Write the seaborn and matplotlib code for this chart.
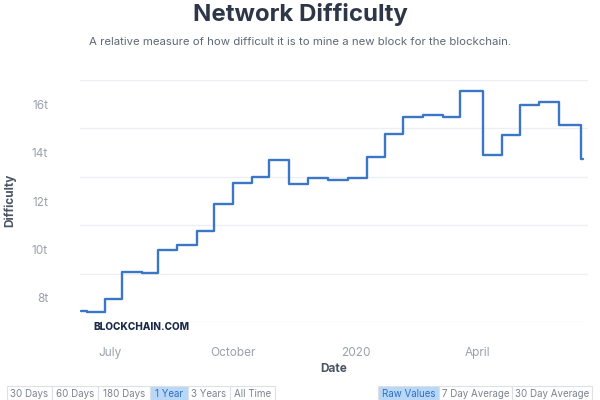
import matplotlib
matplotlib.use("Agg")
import matplotlib.pyplot as plt
from matplotlib.patches import Rectangle
import pandas as pd
import seaborn as sns

# ---- data ----
change_dates = [
    "2019-06-09", "2019-06-14", "2019-06-27", "2019-07-10", "2019-07-25",
    "2019-08-06", "2019-08-20", "2019-09-04", "2019-09-17", "2019-10-01",
    "2019-10-15", "2019-10-28", "2019-11-12", "2019-11-26", "2019-12-11",
    "2019-12-26", "2020-01-09", "2020-01-23", "2020-02-05", "2020-02-20",
    "2020-03-06", "2020-03-19", "2020-04-05", "2020-04-19", "2020-05-03",
    "2020-05-17", "2020-06-01", "2020-06-17", "2020-06-19",
]
difficulty_t = [
    7.46, 7.41, 7.93, 9.06, 9.01,
    9.99, 10.18, 10.77, 11.89, 12.76,
    13.01, 13.69, 12.72, 12.97, 12.88,
    12.94, 13.80, 14.78, 15.47, 15.55,
    15.47, 16.55, 13.91, 14.72, 15.96,
    16.10, 15.14, 13.73, 13.73,
]
x_tick_dates = ["2019-07-01", "2019-10-01", "2020-01-01", "2020-04-01"]
x_tick_labels = ["July", "October", "2020", "April"]
y_ticks = [8, 10, 12, 14, 16]
y_tick_labels = ["8t", "10t", "12t", "14t", "16t"]
left_buttons = ["30 Days", "60 Days", "180 Days", "1 Year", "3 Years", "All Time"]
right_buttons = ["Raw Values", "7 Day Average", "30 Day Average"]

df = pd.DataFrame({"Date": pd.to_datetime(change_dates), "Difficulty": difficulty_t})

sns.set_style("white")
plt.rcParams["font.family"] = ["Inter", "DejaVu Sans"]

fig = plt.figure(figsize=(6, 4), dpi=100)
ax = fig.add_axes([80 / 600, 1 - 322 / 400, 508 / 600, 242 / 400])

sns.lineplot(data=df, x="Date", y="Difficulty", ax=ax, color="#3a77c6",
             linewidth=1.7, drawstyle="steps-post")

ax.set_xlim(pd.Timestamp("2019-06-08 12:00"), pd.Timestamp("2020-06-22 12:00"))
ax.set_ylim(7, 17)

# grid
ax.set_yticks(range(7, 18), minor=True)
ax.grid(axis="y", which="minor", color="#eceff3", linewidth=0.9)
ax.set_yticks(y_ticks)
ax.set_yticklabels(y_tick_labels)
ax.tick_params(axis="y", which="both", length=0, pad=23, labelsize=8.5, labelcolor="#9aa1ab")
ax.set_axisbelow(True)

ax.set_xticks(pd.to_datetime(x_tick_dates))
ax.set_xticklabels(x_tick_labels)
ax.tick_params(axis="x", length=4, width=0.8, color="#c8cdd3", pad=5,
               labelsize=8.5, labelcolor="#9aa1ab")
ax.spines["bottom"].set_position(("outward", 9))
for s in ["top", "right", "left", "bottom"]:
    ax.spines[s].set_visible(False)

ax.set_xlabel("Date", fontsize=8.5, color="#4a5563", fontweight="bold", labelpad=3)
ax.set_ylabel("")
fig.text(10 / 600, 1 - 200 / 400, "Difficulty", rotation=90, ha="center", va="center",
         fontsize=8.5, color="#4a5563", fontweight="bold")

# titles
fig.text(0.5, 1 - 14 / 400, "Network Difficulty", ha="center", va="center",
         fontsize=17.3, fontweight="bold", color="#2d3748")
fig.text(0.5, 1 - 42 / 400,
         "A relative measure of how difficult it is to mine a new block for the blockchain.",
         ha="center", va="center", fontsize=8.2, color="#5f6875")

# watermark
fig.text(93 / 600, 1 - 327 / 400, "BLOCKCHAIN.COM", ha="left", va="center",
         fontsize=7.2, fontweight="heavy", color="#1c2b4b")

# buttons
def draw_buttons(edges, labels, active):
    for i, lab in enumerate(labels):
        x0, x1 = edges[i], edges[i + 1]
        fc = "#b9d7f7" if i == active else "white"
        tc = "#2f6fc0" if i == active else "#7b838e"
        fig.patches.append(Rectangle((x0 / 600, 0), (x1 - x0) / 600, (400 - 386) / 400,
                                     transform=fig.transFigure, facecolor=fc,
                                     edgecolor="#dde1e6", linewidth=0.8))
        fig.text((x0 + x1) / 2 / 600, 1 - 394 / 400, lab, ha="center", va="center",
                 fontsize=7, color=tc)

draw_buttons([7, 52, 98, 150, 188, 230, 275], left_buttons, 3)
draw_buttons([378, 439, 512, 592], right_buttons, 0)

fig.savefig("out.png", dpi=100)
